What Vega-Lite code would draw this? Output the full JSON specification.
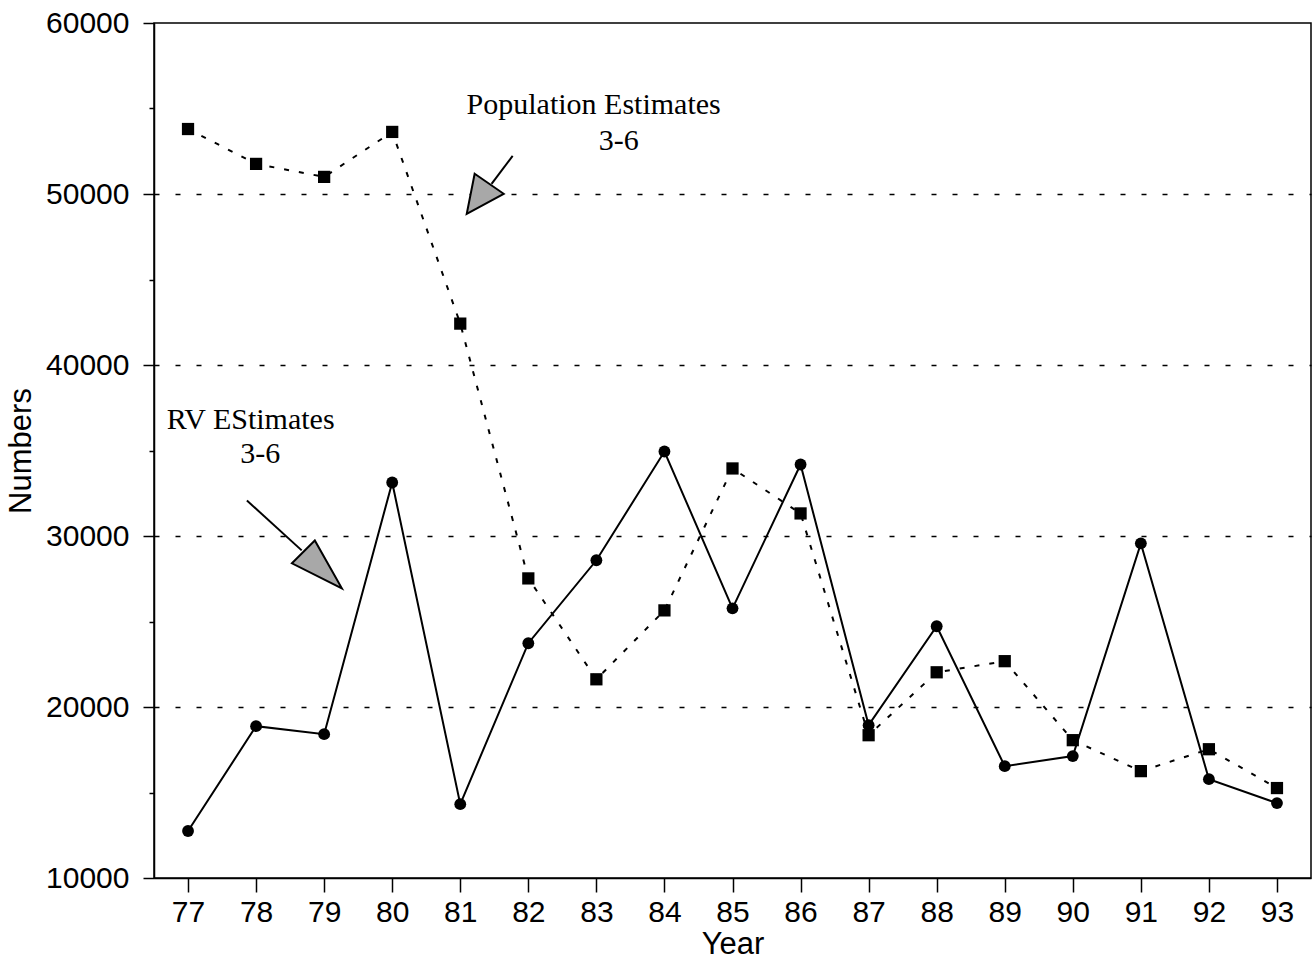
{
  "$schema": "https://vega.github.io/schema/vega-lite/v6.json",
  "width": 1157,
  "height": 855,
  "autosize": {"type": "none"},
  "padding": {"left": 154, "top": 23, "right": 5, "bottom": 85},
  "background": "white",
  "config": {
    "view": {"stroke": "black", "strokeWidth": 1.5},
    "axis": {
      "labelFont": "Liberation Sans",
      "titleFont": "Liberation Sans",
      "labelColor": "black",
      "titleColor": "black",
      "domainColor": "black",
      "tickColor": "black",
      "domainWidth": 1.5,
      "tickWidth": 1.5,
      "titleFontWeight": "normal",
      "labelFontSize": 30,
      "titleFontSize": 31
    }
  },
  "datasets": {
    "series": [
      {"year": 77, "series": "Population", "value": 53800},
      {"year": 78, "series": "Population", "value": 51760},
      {"year": 79, "series": "Population", "value": 51000},
      {"year": 80, "series": "Population", "value": 53630},
      {"year": 81, "series": "Population", "value": 42420},
      {"year": 82, "series": "Population", "value": 27520},
      {"year": 83, "series": "Population", "value": 21620},
      {"year": 84, "series": "Population", "value": 25650},
      {"year": 85, "series": "Population", "value": 33950},
      {"year": 86, "series": "Population", "value": 31320},
      {"year": 87, "series": "Population", "value": 18350},
      {"year": 88, "series": "Population", "value": 22030},
      {"year": 89, "series": "Population", "value": 22680},
      {"year": 90, "series": "Population", "value": 18060},
      {"year": 91, "series": "Population", "value": 16250},
      {"year": 92, "series": "Population", "value": 17530},
      {"year": 93, "series": "Population", "value": 15260},
      {"year": 77, "series": "RV", "value": 12750},
      {"year": 78, "series": "RV", "value": 18880},
      {"year": 79, "series": "RV", "value": 18410},
      {"year": 80, "series": "RV", "value": 33130},
      {"year": 81, "series": "RV", "value": 14320},
      {"year": 82, "series": "RV", "value": 23730},
      {"year": 83, "series": "RV", "value": 28580},
      {"year": 84, "series": "RV", "value": 34940},
      {"year": 85, "series": "RV", "value": 25770},
      {"year": 86, "series": "RV", "value": 34180},
      {"year": 87, "series": "RV", "value": 18940},
      {"year": 88, "series": "RV", "value": 24720},
      {"year": 89, "series": "RV", "value": 16540},
      {"year": 90, "series": "RV", "value": 17130},
      {"year": 91, "series": "RV", "value": 29570},
      {"year": 92, "series": "RV", "value": 15780},
      {"year": 93, "series": "RV", "value": 14380}
    ],
    "labels": [
      {"x": 82.96, "y": 54685, "text": "Population Estimates"},
      {"x": 83.33, "y": 52580, "text": "3-6"},
      {"x": 77.92, "y": 36285, "text": "RV EStimates"},
      {"x": 78.06, "y": 34240, "text": "3-6"}
    ],
    "arrowLines": [
      {"x": 81.77, "y": 52231, "x2": 81.46, "y2": 50596},
      {"x": 77.865, "y": 32079, "x2": 78.67, "y2": 29159}
    ],
    "head1": [{"x": 81.315, "y": 50012}],
    "head2": [{"x": 78.878, "y": 28341}]
  },
  "layer": [
    {
      "data": {"name": "series"},
      "transform": [{"filter": "datum.series === 'Population'"}],
      "mark": {"type": "line", "color": "black", "strokeWidth": 2, "strokeDash": [5, 10]},
      "encoding": {
        "x": {
          "field": "year", "type": "quantitative",
          "scale": {"domain": [76.5, 93.5], "nice": false, "zero": false},
          "axis": {
            "title": "Year",
            "values": [77, 78, 79, 80, 81, 82, 83, 84, 85, 86, 87, 88, 89, 90, 91, 92, 93],
            "format": "d",
            "grid": false,
            "tickSize": 14,
            "labelPadding": 5,
            "titlePadding": 2
          }
        },
        "y": {
          "field": "value", "type": "quantitative",
          "scale": {"domain": [10000, 60000], "nice": false, "zero": false},
          "axis": {
            "title": "Numbers",
            "values": [10000, 15000, 20000, 25000, 30000, 35000, 40000, 45000, 50000, 55000, 60000],
            "labelExpr": "datum.value % 10000 === 0 ? datum.value : ''",
            "format": "d",
            "tickSize": {"condition": {"test": "datum.value % 10000 === 0", "value": 11}, "value": 5},
            "labelPadding": 14,
            "titlePadding": 8,
            "grid": true,
            "gridColor": "black",
            "gridWidth": 1.5,
            "gridDash": [5, 16],
            "gridOpacity": {"condition": {"test": "datum.value % 10000 === 0 && datum.value > 10000 && datum.value < 60000", "value": 1}, "value": 0}
          }
        }
      }
    },
    {
      "data": {"name": "series"},
      "transform": [{"filter": "datum.series === 'Population'"}],
      "mark": {"type": "point", "shape": "square", "filled": true, "color": "black", "opacity": 1, "size": 150},
      "encoding": {
        "x": {"field": "year", "type": "quantitative"},
        "y": {"field": "value", "type": "quantitative"}
      }
    },
    {
      "data": {"name": "series"},
      "transform": [{"filter": "datum.series === 'RV'"}],
      "mark": {"type": "line", "color": "black", "strokeWidth": 2},
      "encoding": {
        "x": {"field": "year", "type": "quantitative"},
        "y": {"field": "value", "type": "quantitative"}
      }
    },
    {
      "data": {"name": "series"},
      "transform": [{"filter": "datum.series === 'RV'"}],
      "mark": {"type": "point", "shape": "circle", "filled": true, "color": "black", "opacity": 1, "size": 140},
      "encoding": {
        "x": {"field": "year", "type": "quantitative"},
        "y": {"field": "value", "type": "quantitative"}
      }
    },
    {
      "data": {"name": "labels"},
      "mark": {"type": "text", "font": "Liberation Serif", "fontSize": 30, "color": "black", "align": "center", "baseline": "alphabetic"},
      "encoding": {
        "x": {"field": "x", "type": "quantitative"},
        "y": {"field": "y", "type": "quantitative"},
        "text": {"field": "text"}
      }
    },
    {
      "data": {"name": "arrowLines"},
      "mark": {"type": "rule", "color": "black", "strokeWidth": 2},
      "encoding": {
        "x": {"field": "x", "type": "quantitative"},
        "y": {"field": "y", "type": "quantitative"},
        "x2": {"field": "x2"},
        "y2": {"field": "y2"}
      }
    },
    {
      "data": {"name": "head1"},
      "mark": {"type": "point", "shape": "M-0.32,-0.91L1,0L-0.68,0.91Z", "filled": true, "fill": "#a8a8a8", "stroke": "black", "strokeWidth": 2, "opacity": 1, "size": 1936},
      "encoding": {
        "x": {"field": "x", "type": "quantitative"},
        "y": {"field": "y", "type": "quantitative"}
      }
    },
    {
      "data": {"name": "head2"},
      "mark": {"type": "point", "shape": "M-0.04,-0.92L-0.92,-0.04L1,0.92Z", "filled": true, "fill": "#a8a8a8", "stroke": "black", "strokeWidth": 2, "opacity": 1, "size": 2704},
      "encoding": {
        "x": {"field": "x", "type": "quantitative"},
        "y": {"field": "y", "type": "quantitative"}
      }
    }
  ]
}
